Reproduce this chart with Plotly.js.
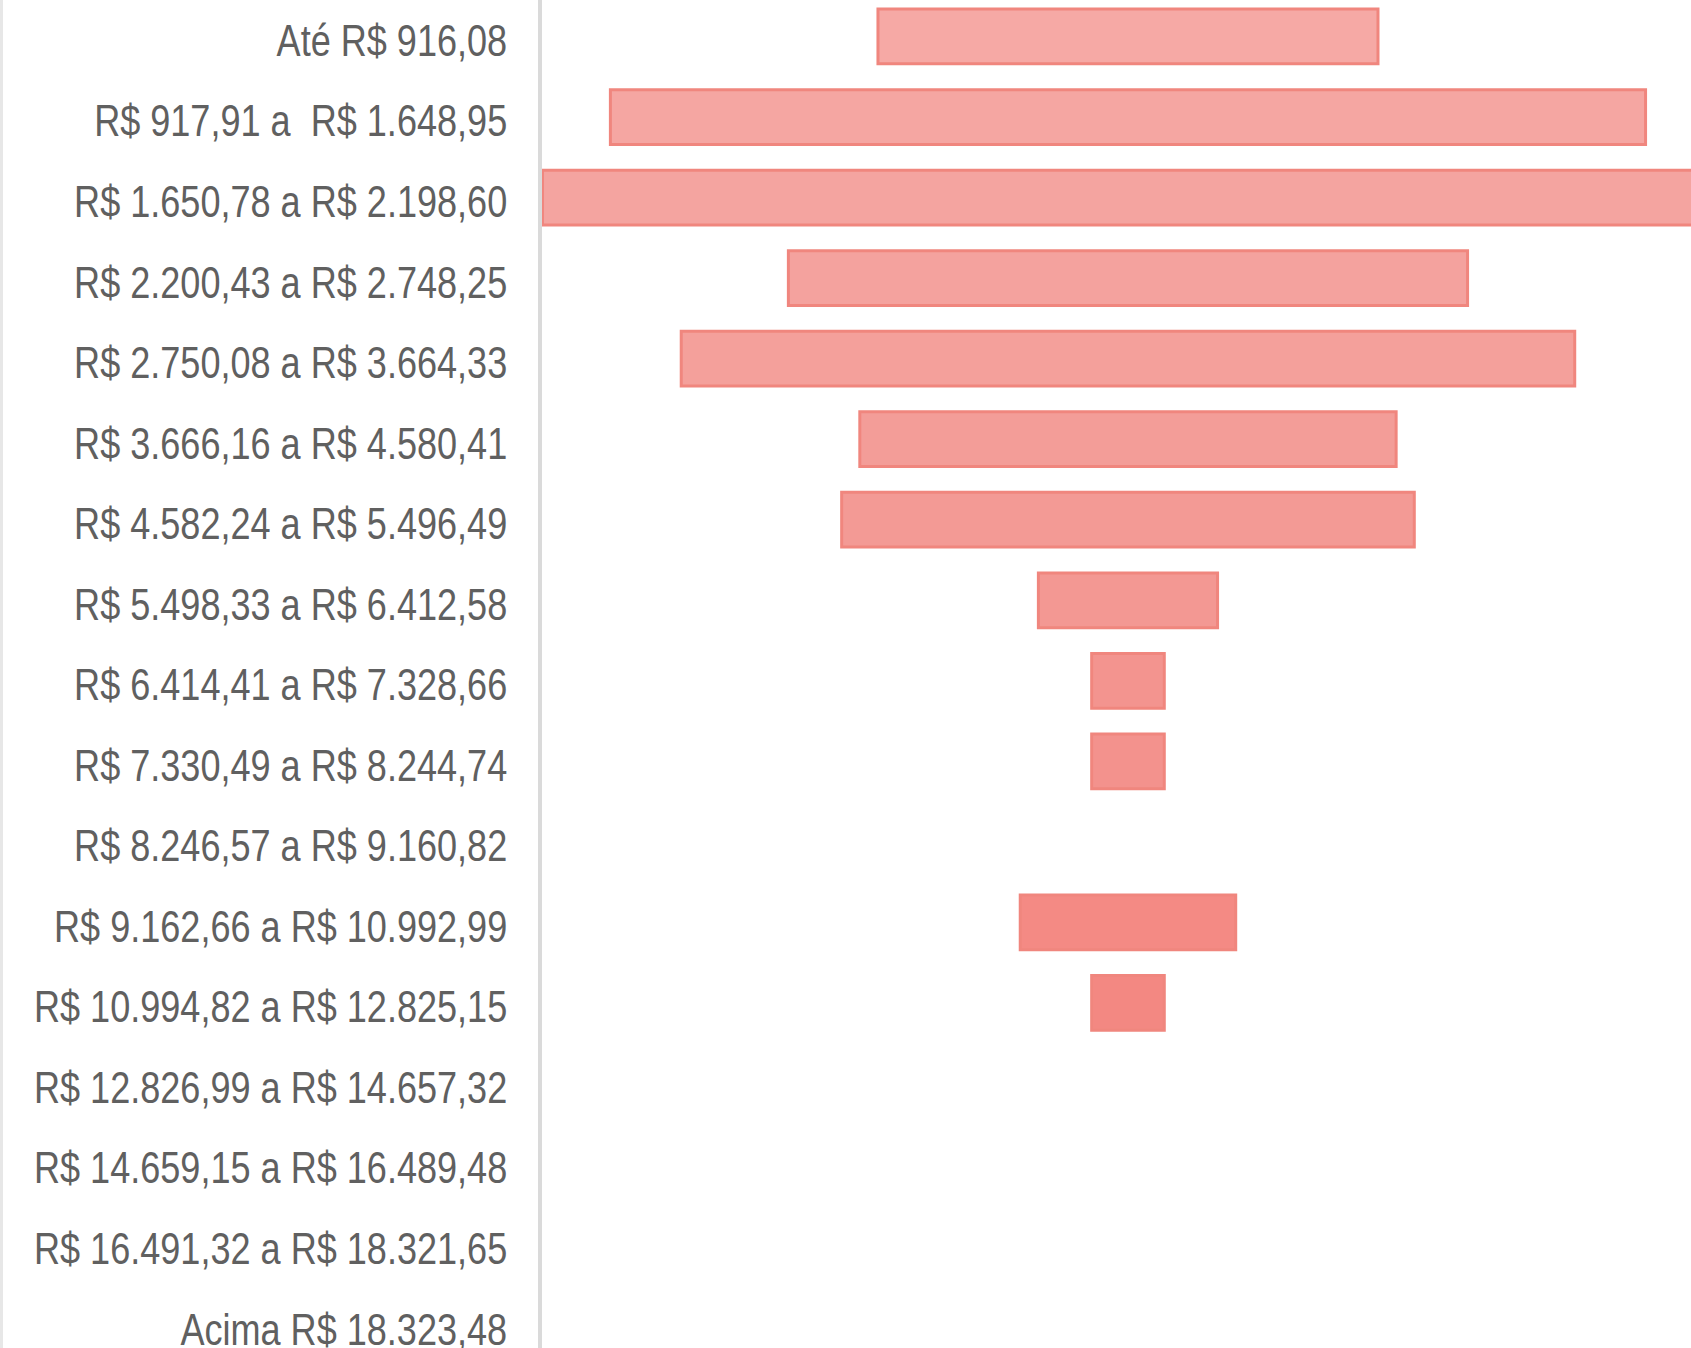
<!DOCTYPE html>
<html>
<head>
<meta charset="utf-8">
<script src="https://cdn.plot.ly/plotly-3.0.1.min.js"></script>
<style>
html, body { margin: 0; padding: 0; background: #ffffff; overflow: hidden; }
#chart { width: 1691px; height: 1348px; }
#edge { position: absolute; left: 0; top: 0; width: 3px; height: 1348px; background: #e7e7e7; }
</style>
</head>
<body>
<div id="chart"></div>
<div id="edge"></div>
<script>
// Faixas de renda (categorias)
const categories = [
  "Até R$ 916,08",
  "R$ 917,91 a  R$ 1.648,95",
  "R$ 1.650,78 a R$ 2.198,60",
  "R$ 2.200,43 a R$ 2.748,25",
  "R$ 2.750,08 a R$ 3.664,33",
  "R$ 3.666,16 a R$ 4.580,41",
  "R$ 4.582,24 a R$ 5.496,49",
  "R$ 5.498,33 a R$ 6.412,58",
  "R$ 6.414,41 a R$ 7.328,66",
  "R$ 7.330,49 a R$ 8.244,74",
  "R$ 8.246,57 a R$ 9.160,82",
  "R$ 9.162,66 a R$ 10.992,99",
  "R$ 10.994,82 a R$ 12.825,15",
  "R$ 12.826,99 a R$ 14.657,32",
  "R$ 14.659,15 a R$ 16.489,48",
  "R$ 16.491,32 a R$ 18.321,65",
  "Acima R$ 18.323,48"
];

// Valores estimados (relativos, maior faixa = 100)
const values = [42.7, 88.4, 100, 58.0, 76.3, 45.8, 48.9, 15.3, 6.2, 6.2, 0, 18.4, 6.2, 0, 0, 0, 0];

// Cores de preenchimento (mais claras no topo)
const barColors = [
  "#F6A9A5", "#F5A6A2", "#F4A4A0", "#F4A29E", "#F4A09B", "#F39D98",
  "#F39A95", "#F39893", "#F3948F", "#F3928D", "#F38F8A", "#F48A84",
  "#F38882", "#F38680", "#F3857F", "#F3847E", "#F3837D"
];
const borderColor = "#F0867E";

const trace = {
  type: "funnel",
  orientation: "h",
  y: categories,
  x: values,
  marker: {
    color: barColors,
    line: { color: borderColor, width: values.map(v => (v > 0 ? 3 : 0)) }
  },
  connector: { visible: false },
  textinfo: "none",
  textposition: "none",
  hoverinfo: "skip"
};

const layout = {
  width: 1691,
  height: 1348,
  margin: { l: 542, r: 0, t: 0, b: 0, pad: 0 },
  paper_bgcolor: "#ffffff",
  plot_bgcolor: "#ffffff",
  funnelgap: 0.32,
  showlegend: false,
  xaxis: { range: [-50.04, 48.08], visible: false, fixedrange: true },
  yaxis: {
    type: "category",
    range: [16.284, -0.453],
    tickmode: "linear", tick0: 0, dtick: 1,
    showline: true, linecolor: "#dadada", linewidth: 4,
    ticks: "outside", ticklen: 22, tickcolor: "rgba(0,0,0,0)",
    tickfont: { family: "'Liberation Sans', Arial, sans-serif", size: 44, color: "#606060" },
    showgrid: false, zeroline: false, automargin: false, fixedrange: true
  }
};

function condenseLabels(gd) {
  // narrow the tick labels horizontally, keeping their right end fixed
  gd.querySelectorAll(".ytick text").forEach(function (t) {
    if (t.getAttribute("data-condensed")) return;
    const bb = t.getBBox();
    const right = bb.x + bb.width;
    const orig = t.getAttribute("transform") || "";
    t.setAttribute("transform", orig + " translate(" + right + ",4) scale(0.82,1) translate(" + (-right) + ",0)");
    t.setAttribute("data-condensed", "1");
  });
}

Plotly.newPlot("chart", [trace], layout, { displayModeBar: false, staticPlot: true })
  .then(function (gd) { condenseLabels(gd); });
</script>
</body>
</html>
